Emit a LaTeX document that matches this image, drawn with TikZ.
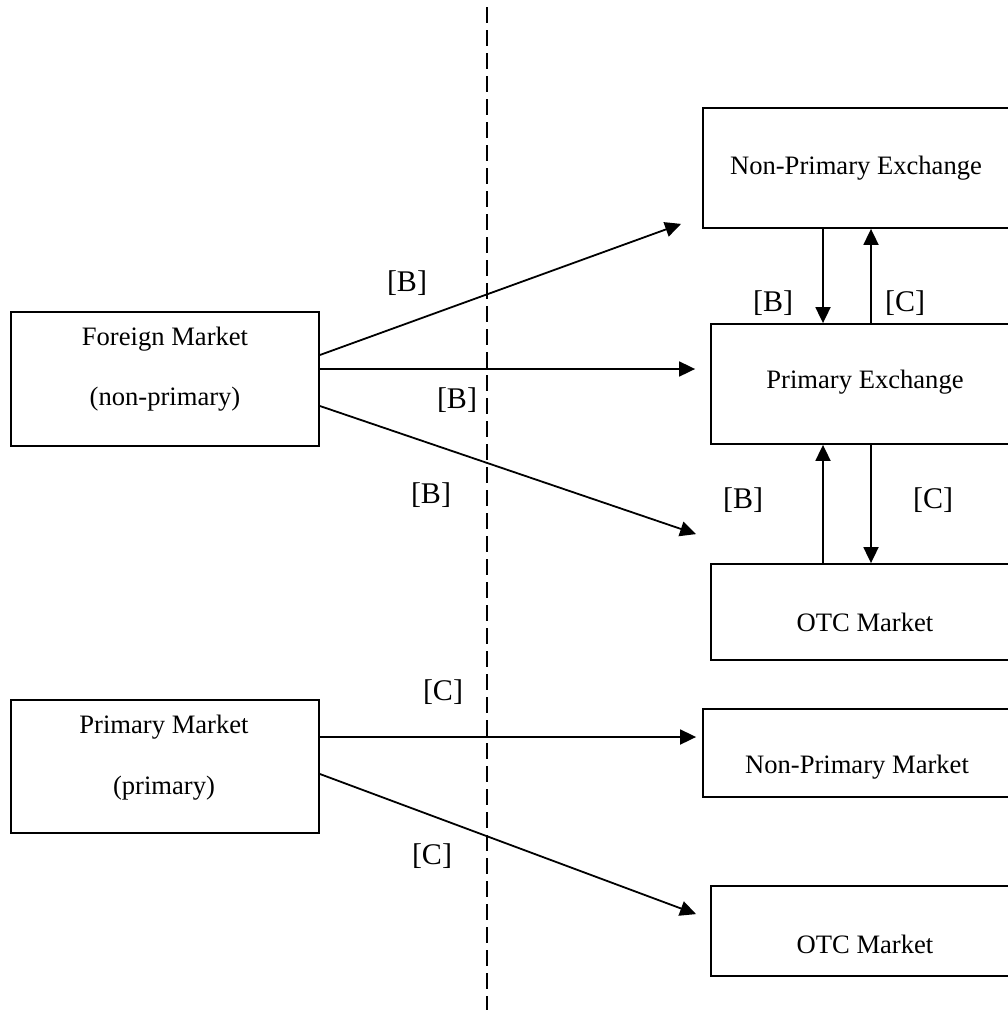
\documentclass[tikz,border=0pt]{standalone}
\usepackage{fontspec}
\setmainfont{Liberation Serif}
\usetikzlibrary{arrows.meta}

\tikzset{
  box/.style={draw, line width=1.8pt, rectangle, inner sep=0pt, minimum width=308pt},
  boxtext/.style={inner sep=0pt, font=\fontsize{26.6}{30}\selectfont},
  lbl/.style={inner sep=0pt, font=\fontsize{30}{34}\selectfont},
  arr/.style={line width=1.8pt, -{Triangle[length=16pt,width=15pt]}},
  divider/.style={line width=1.8pt, dash pattern=on 16pt off 7pt}
}

\begin{document}
\begin{tikzpicture}[x=1pt, y=-1pt]
  \useasboundingbox (0,0) rectangle (1008,1010);
  \clip (0,0) rectangle (1008,1010);
  \fill[white] (0,0) rectangle (1008,1010);

  % dividing line
  \coordinate (dtop) at (487,7);
  \coordinate (dbot) at (487,1010);
  \draw[divider] (dtop) -- (dbot);

  % left boxes
  \node[box, minimum height=134pt] (fm) at (165,379) {};
  \node[boxtext] (fm1) at (165,339) {Foreign Market};
  \node[boxtext] (fm2) at (165,399) {(non-primary)};

  \node[box, minimum height=133pt] (pm) at (165,766.5) {};
  \node[boxtext] (pm1) at (164,727) {Primary Market};
  \node[boxtext] (pm2) at (164,788) {(primary)};

  % right boxes
  \node[box, minimum height=120pt] (npe) at (857,168) {};
  \node[boxtext] (npet) at (856,168) {Non-Primary Exchange};

  \node[box, minimum height=120pt] (pe) at (865,384) {};
  \node[boxtext] (pet) at (865,382) {Primary Exchange};

  \node[box, minimum height=96pt] (otca) at (865,612) {};
  \node[boxtext] (otcat) at (865,622) {OTC Market};

  \node[box, minimum height=88pt] (npm) at (857,753) {};
  \node[boxtext] (npmt) at (857,767) {Non-Primary Market};

  \node[box, minimum height=90pt] (otcb) at (865,931) {};
  \node[boxtext] (otcbt) at (865,944) {OTC Market};

  % arrows from the foreign market
  \draw[arr] ([yshift=24pt]fm.east) -- ([xshift=-21pt,yshift=5pt]npe.south west);
  \draw[arr] ([yshift=10pt]fm.east) -- ([xshift=-15pt,yshift=15pt]pe.west);
  \draw[arr] ([yshift=-27pt]fm.east) -- ([xshift=-14pt,yshift=29pt]otca.north west);

  % arrows from the primary market
  \draw[arr] ([yshift=29.5pt]pm.east) -- ([xshift=-6pt,yshift=16pt]npm.west);
  \draw[arr] ([yshift=-7.5pt]pm.east) -- ([xshift=-14pt,yshift=-29pt]otcb.north west);

  % links between the exchanges
  \coordinate (vl) at (823,0);
  \coordinate (vr) at (871,0);
  \draw[arr] (npe.south -| vl) -- (pe.north -| vl);
  \draw[arr] (pe.north -| vr) -- (npe.south -| vr);
  \draw[arr] (otca.north -| vl) -- (pe.south -| vl);
  \draw[arr] (pe.south -| vr) -- (otca.north -| vr);

  % labels
  \node[lbl] (l1) at (407,283) {[B]};
  \node[lbl] (l2) at (457,400) {[B]};
  \node[lbl] (l3) at (431,495) {[B]};
  \node[lbl] (l4) at (773,303) {[B]};
  \node[lbl] (l5) at (905,303) {[C]};
  \node[lbl] (l6) at (743,500) {[B]};
  \node[lbl] (l7) at (933,500) {[C]};
  \node[lbl] (l8) at (443,692) {[C]};
  \node[lbl] (l9) at (432,856) {[C]};
\end{tikzpicture}
\end{document}
